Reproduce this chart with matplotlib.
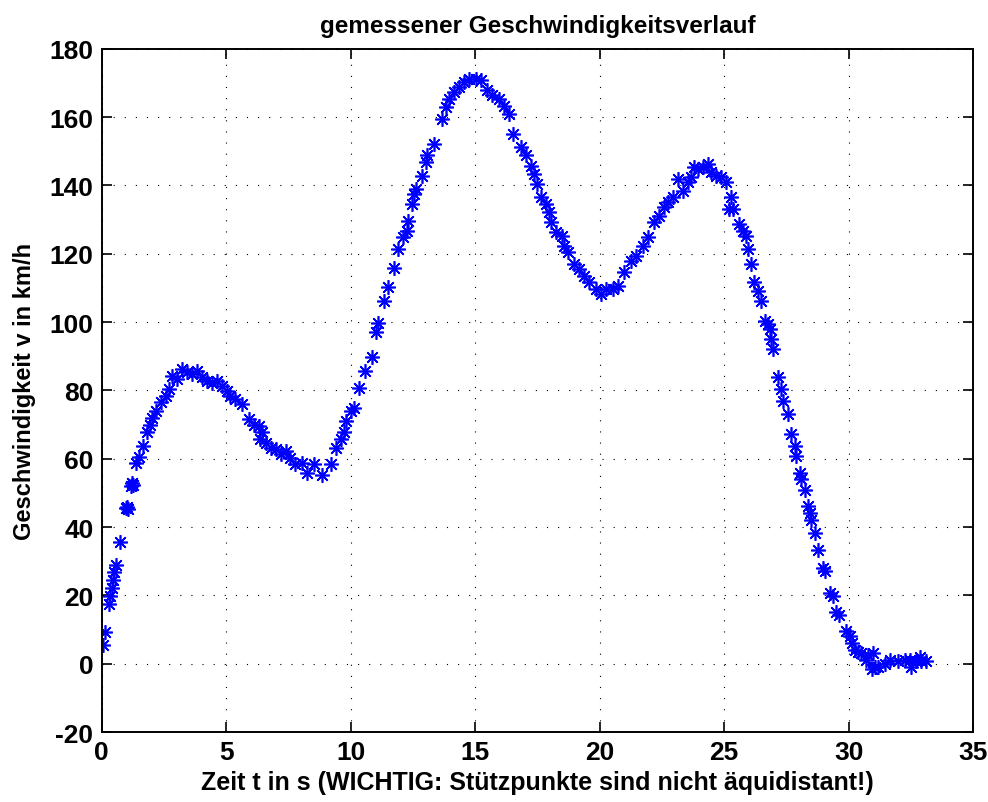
import matplotlib.pyplot as plt

# Zeit in s (nicht aequidistant) und gemessene Geschwindigkeit in km/h
t = [0.05, 0.15, 0.28, 0.35, 0.41, 0.45, 0.51, 0.58, 0.75, 0.98, 1.02, 1.06,
     1.18, 1.22, 1.26, 1.39, 1.49, 1.66, 1.82, 1.93, 2.02, 2.16, 2.36, 2.56,
     2.69, 2.83, 3.03, 3.23, 3.43, 3.63, 3.83, 4.03, 4.23, 4.43, 4.64, 4.84,
     5.04, 5.17, 5.37, 5.64, 5.91, 6.11, 6.31, 6.45, 6.35, 6.58, 6.78, 6.98,
     7.18, 7.38, 7.58, 7.78, 8.05, 8.25, 8.52, 8.86, 9.19, 9.4, 9.6, 9.73,
     9.8, 10.0, 10.13, 10.33, 10.57, 10.84, 11.0, 11.11, 11.34, 11.51, 11.74,
     11.91, 12.1, 12.24, 12.28, 12.48, 12.55, 12.61, 12.85, 13.01, 13.08,
     13.35, 13.68, 13.82, 13.95, 14.15, 14.35, 14.55, 14.76, 15.02, 15.22,
     15.49, 15.69, 15.96, 16.16, 16.36, 16.5, 16.83, 17.03, 17.23, 17.37,
     17.5, 17.63, 17.84, 17.97, 18.04, 18.24, 18.5, 18.57, 18.71, 18.98,
     19.18, 19.38, 19.58, 19.85, 20.05, 20.25, 20.52, 20.72, 20.99, 21.26,
     21.46, 21.72, 21.93, 22.19, 22.4, 22.6, 22.73, 22.93, 23.13, 23.33,
     23.53, 23.67, 23.8, 23.94, 24.14, 24.34, 24.47, 24.67, 24.87, 25.07,
     25.21, 25.28, 25.35, 25.61, 25.74, 25.88, 25.95, 26.08, 26.21, 26.35,
     26.48, 26.62, 26.75, 26.82, 26.88, 26.95, 27.15, 27.29, 27.36, 27.56,
     27.69, 27.83, 27.89, 28.03, 28.09, 28.23, 28.36, 28.43, 28.5, 28.63,
     28.76, 28.96, 29.03, 29.23, 29.37, 29.5, 29.63, 29.9, 30.04, 30.12,
     30.24, 30.37, 30.51, 30.71, 30.79, 30.92, 30.97, 31.04, 31.19, 31.45,
     31.65, 31.99, 32.25, 32.45, 32.52, 32.72, 32.85, 32.92, 33.1]
v = [5.6, 9.2, 17.6, 19.7, 22.3, 24.6, 27.0, 29.0, 35.7, 45.5, 46.0, 45.3,
     52.0, 53.0, 52.3, 58.8, 60.4, 63.7, 67.7, 70.0, 72.0, 74.0, 76.5, 78.4,
     80.4, 84.3, 83.3, 86.2, 85.3, 84.8, 85.7, 83.8, 82.8, 82.3, 82.8, 81.3,
     79.9, 78.4, 77.4, 76.0, 71.6, 70.0, 69.6, 67.7, 65.7, 64.7, 63.3, 62.8,
     61.3, 62.3, 60.3, 58.4, 58.8, 55.9, 58.4, 55.4, 58.4, 63.3, 65.7, 67.7,
     71.0, 74.0, 75.0, 80.8, 85.7, 89.9, 97.0, 99.7, 106.2, 110.2, 115.7,
     121.4, 124.8, 126.8, 129.7, 134.6, 137.5, 139.0, 142.9, 146.8, 148.8,
     152.2, 159.5, 162.9, 165.4, 167.4, 168.8, 170.3, 171.3, 171.3, 170.8,
     167.8, 166.4, 165.4, 163.4, 161.0, 155.1, 151.2, 148.8, 145.8, 143.4,
     140.5, 136.6, 134.6, 132.2, 129.2, 126.3, 125.3, 122.4, 120.4, 117.0,
     115.5, 113.6, 111.6, 109.7, 108.2, 109.7, 109.7, 110.6, 114.6, 118.0,
     119.5, 122.4, 124.8, 129.2, 131.0, 133.6, 135.1, 136.6, 141.9, 138.5,
     141.0, 142.4, 145.4, 144.9, 145.4, 146.3, 143.9, 142.9, 142.4, 141.0,
     133.1, 136.6, 133.1, 128.7, 126.8, 125.3, 121.4, 117.0, 111.6, 109.2,
     106.2, 100.4, 99.4, 97.9, 95.0, 92.1, 83.8, 80.4, 76.9, 73.0,
     67.2, 63.7, 60.8, 55.9, 54.0, 51.0, 46.1, 44.2, 42.2, 38.3,
     33.4, 28.1, 27.1, 20.7, 19.7, 15.3, 14.4, 9.5, 8.0, 6.1,
     4.1, 3.6, 3.1, 1.2, 2.6, -1.6, 3.1, -1.0, -0.8, 0.0,
     1.2, 0.7, 1.2, 1.2, -0.8, 0.7, 2.0, 0.7, 0.9]

plt.rcParams['font.family'] = ['Liberation Sans', 'DejaVu Sans']
plt.rcParams['font.weight'] = 'bold'
plt.rcParams['axes.unicode_minus'] = False

fig = plt.figure(figsize=(9.88, 8.03), dpi=100)
ax = fig.add_axes([0.103, 0.087, 0.882, 0.851])

ax.plot(t, v, linestyle='none', marker=(8, 2, 0), markersize=10.5,
        markeredgewidth=1.2, color='#0000ff')

ax.set_xlim(0, 35)
ax.set_ylim(-20, 180)
ax.set_xticks(range(0, 36, 5))
ax.set_yticks(range(-20, 181, 20))
ax.grid(True, linestyle=(0, (1, 9)), color='black', linewidth=0.8)
ax.tick_params(direction='in', top=True, right=True, length=7, width=1.2,
               labelsize=19, pad=6)
for s in ax.spines.values():
    s.set_linewidth(1.4)

ax.set_title('gemessener Geschwindigkeitsverlauf', fontsize=17.5,
             fontweight='bold', pad=12)
ax.set_xlabel('Zeit t in s (WICHTIG: Stützpunkte sind nicht äquidistant!)',
              fontsize=18, fontweight='bold', labelpad=4)
ax.set_ylabel('Geschwindigkeit v in km/h', fontsize=17, fontweight='bold',
              labelpad=10)

fig.savefig('out.png', dpi=100)
